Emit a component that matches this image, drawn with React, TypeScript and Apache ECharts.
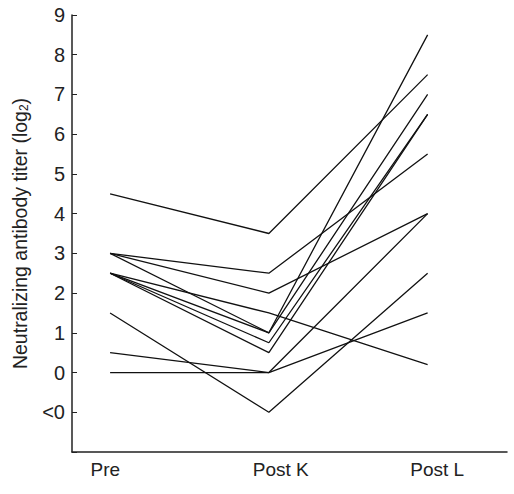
import React, { useEffect, useRef } from "react";
import * as echarts from "echarts";

const categories = ["Pre", "Post K", "Post L"];
// each subject: [Pre, Post K, Post L] (log2 titer; -1 means "<0")
const subject1 = [4.5, 3.5, 7.5];
const subject2 = [3, 2.5, 5.5];
const subject3 = [3, 2, 4];
const subject4 = [3, 1, 8.5];
const subject5 = [2.5, 1.5, 0.2];
const subject6 = [2.5, 1, 7];
const subject7 = [2.5, 0.75, 6.5];
const subject8 = [2.5, 0.5, 6.5];
const subject9 = [1.5, -1, 2.5];
const subject10 = [0.5, 0, 4];
const subject11 = [0, 0, 1.5];
const subjects = [subject1, subject2, subject3, subject4, subject5, subject6, subject7, subject8, subject9, subject10, subject11];
const labelPositions = [-0.03, 1.075, 2.06];

const FONT = "'Liberation Sans', Arial, sans-serif";

export default function App() {
  const ref = useRef<HTMLDivElement>(null);
  useEffect(() => {
    if (!ref.current) return;
    const chart = echarts.init(ref.current, null, { renderer: "svg" });
    chart.setOption({
      animation: false,
      backgroundColor: "#fff",
      grid: { left: 72, right: 7, top: 15, bottom: 42 },
      xAxis: {
        type: "value",
        min: -0.24,
        max: 2.5,
        splitLine: { show: false },
        axisLine: { show: true, onZero: false, lineStyle: { color: "#222", width: 1.5 } },
        axisTick: { show: false },
        axisLabel: {
          customValues: labelPositions,
          formatter: (v: number) => categories[Math.round(v)] ?? "",
          fontFamily: FONT,
          fontSize: 19,
          color: "#222",
          margin: 8,
        },
      },
      yAxis: {
        type: "value",
        min: -2,
        max: 9,
        interval: 1,
        splitLine: { show: false },
        axisLine: { show: true, onZero: false, lineStyle: { color: "#222", width: 1.5 } },
        axisTick: { show: true, inside: true, length: 5, lineStyle: { color: "#222" } },
        axisLabel: {
          formatter: (v: number) => (v === -2 ? "" : v === -1 ? "<0" : String(v)),
          fontFamily: FONT,
          fontSize: 20,
          color: "#222",
          margin: 7,
        },
        name: "Neutralizing antibody titer (log{sub|2})",
        nameLocation: "middle",
        nameGap: 42,
        nameTextStyle: {
          fontFamily: FONT,
          fontSize: 19.5,
          color: "#222",
          rich: {
            sub: { fontFamily: FONT, fontSize: 12, color: "#222", verticalAlign: "bottom", padding: [9, 0, 0, 0] },
          },
        },
      },
      series: subjects.map((s, i) => ({
        type: "line",
        name: "S" + (i + 1),
        data: s.map((v, j) => [j, v]),
        symbol: "none",
        lineStyle: { color: "#111", width: 1.3 },
        z: 2,
      })),
    });
    return () => chart.dispose();
  }, []);
  return <div ref={ref} style={{ position: "fixed", left: 0, top: 0, width: 514, height: 494 }} />;
}
